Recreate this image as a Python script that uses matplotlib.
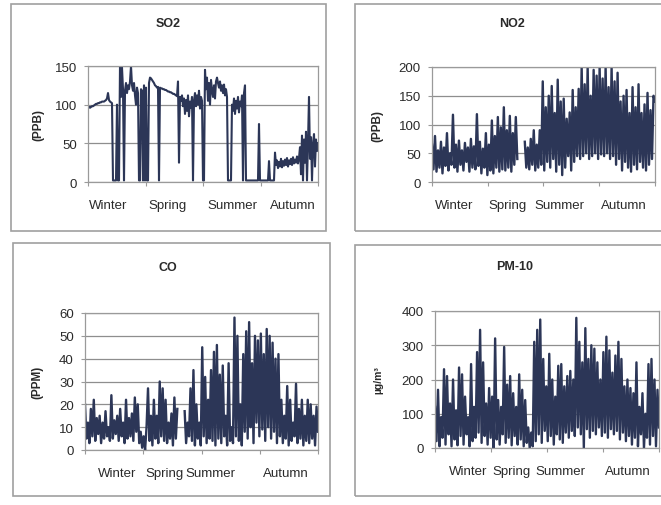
import matplotlib
matplotlib.use('Agg')
import matplotlib.pyplot as plt
from matplotlib.patches import Rectangle

nan = float('nan')

# Season labels on the category axis
seasons = ['Winter', 'Spring', 'Summer', 'Autumn']

# Daily series (peaks and troughs)
so2 = [97, 97, 96, 97, 98, 98, 99, 100, 101, 101, 102, 102, 103, 103, 104, 104, 104, 105, 106, 108,
       115, 106, 104, 103, 102,
       2, 2, 2, 2, 100, 2, 2,
       150, 110, 148, 120, 2,
       118, 128, 115, 125, 120, 130, 150,
       125, 118, 128, 112, 100, 122, 115, 2, 2, 120, 118,
       2, 125, 2, 122, 2, 2, 128,
       135, 134, 132, 130, 128, 125, 124, 122, 123, 2,
       122, 121, 121, 120, 120, 119, 119, 118, 117, 117, 116, 116, 115, 114, 114, 113, 112, 111,
       130, 25,
       110, 105, 112, 98, 108, 88, 106, 92, 112, 85, 104, 96, 110, 2,
       105, 115, 98, 112, 100, 118, 95, 110, 105, 2, 2, 145,
       120, 135, 105, 128, 100, 132, 118, 110, 125, 108, 130, 135,
       128, 122, 130, 118, 125, 115, 126, 112, 120, 110, 2, 2, 2, 2,
       100, 92, 108, 88, 105, 95, 110, 90, 104, 98, 112, 2, 115, 125,
       2, 2, 2, 2, 2, 2, 2, 2, 2, 2, 2, 2, 2, 75, 2, 2, 2, 2, 2, 2, 2, 2, 2, 27, 2, 2, 2, 2, 2,
       38,
       22, 28, 18, 26, 20, 30, 19, 27, 21, 29, 22, 31, 20, 28, 23, 30, 22, 32, 24, 29, 25, 33, 24, 31,
       45, 10, 60, 2, 55, 25, 65, 2, 50, 110, 30, 58, 2, 48, 62, 20, 55, 40, 50]

no2 = [65, 22, 80, 18, 55, 25, 70, 15, 60, 28, 85, 20, 50, 30, 117, 25, 65, 18, 72, 30,
       55, 20, 68, 35, 60, 18, 75, 25, 62, 22, 118, 28, 70, 15, 58, 25, 85, 12, 65, 20,
       107, 15, 80, 25, 113, 18, 95, 22, 130, 20, 90, 25, 115, 18, 85, 30, 113, 40,
       nan, nan, nan, nan,
       70, 25, 60, 22, 75, 30, 90, 20, 65, 25, 90, 30, 175,
       20, 130, 35, 150, 25, 167, 40, 120, 18, 178, 30, 140, 12, 145, 25, 110, 45, 121, 20, 160,
       35, 130, 45, 162, 40, 200, 45, 170, 50, 200, 40, 150, 45, 195, 50, 185, 40, 200, 48, 180,
       45, 200, 50, 165, 40, 200, 45, 175, 30, 190, 40, 140, 20, 150, 35, 160, 25, 120, 18, 165,
       30, 130, 22, 170, 35, 120, 25, 135, 20, 155, 30, 125, 40, 150, 140]

co = [20, 5, 12, 3, 18, 6, 22, 4, 14, 7, 15, 3, 12, 5, 17, 6, 10, 4, 24, 5,
      13, 7, 15, 4, 18, 6, 12, 3, 22, 5, 14, 6, 16, 4, 23, 8, 20, 3,
      8, 1, 6, 0, 10,
      27, 4, 15, 2, 22, 5, 15, 3, 30, 6, 27, 4, 22, 3, 12, 5, 16, 2, 23, 5, 18,
      nan, nan, nan, nan,
      17, 3, 12, 6, 27, 4, 35, 2, 20, 5, 12, 2, 45, 6, 32, 3, 22, 5, 35, 4,
      43, 2, 46, 5, 33, 3, 37, 6, 15, 2, 38, 4, 10, 3, 58, 6, 50, 4, 20, 2,
      42, 8, 52, 5, 56, 10, 38, 3, 50, 12, 48, 6, 51, 9, 42, 4, 53, 10, 50, 5,
      47, 8, 40, 3, 42, 6,
      22, 3, 15, 5, 28, 2, 22, 4, 12, 6, 29, 3, 18, 5, 22, 2, 15, 4, 22, 3,
      20, 5, 15, 2, 19, 8]

pm10 = [120, 20, 170, 5, 90, 30, 230, 10, 210, 40, 130, 5, 200, 25, 110, 8, 235, 35, 215, 10,
        150, 40, 90, 5, 245, 20, 120, 30, 280, 45, 345, 15, 250, 35, 130, 10, 175, 30, 150, 0,
        320, 25, 140, 10, 120, 40, 295, 15, 185, 30, 210, 8, 160, 35, 120, 10, 215, 25, 170, 5,
        140, 15, 60, 0, 45, 5, 310, 20, 345, 40, 375, 15, 260, 50, 180, 20, 275, 35, 200, 10,
        150, 40, 240, 25, 245, 15, 180, 45, 210, 30, 225, 50, 200, 35, 380, 60, 310, 40, 250, 0,
        350, 55, 260, 30, 300, 50, 290, 40, 250, 60, 200, 35, 280, 45, 325, 30, 285, 55, 220, 40,
        270, 50, 310, 25, 260, 45, 180, 20, 200, 35, 175, 10, 160, 30, 250, 5, 120, 40, 160, 0,
        100, 30, 245, 10, 260, 35, 200, 5, 170, 60]

W, H = 661, 506
fig = plt.figure(figsize=(W / 100, H / 100), dpi=100)
plt.rcParams['font.family'] = ['Liberation Sans', 'DejaVu Sans']

line_color = '#2c3657'
grid_color = '#8e8e8e'
text_color = '#2a2a2a'

# Chart-area frames (Excel style), in pixels: x0, y0, x1, y1
frames = [(11, 5, 326, 232), (355, 5, 668, 232), (13, 244, 330, 497), (355, 246, 668, 497)]
for x0, y0, x1, y1 in frames:
    fig.add_artist(Rectangle((x0 / W, 1 - y1 / H), (x1 - x0) / W, (y1 - y0) / H,
                             transform=fig.transFigure, fill=False,
                             edgecolor='#a0a0a0', linewidth=1.2))


def panel(values, box, ymax, ystep, ylabel, ylabel_x, title, title_xy, label_pos,
          ylabel_size=8.5, lw=1.7):
    x0, y0, x1, y1 = box
    ax = fig.add_axes([x0 / W, 1 - y1 / H, (x1 - x0) / W, (y1 - y0) / H])
    n = len(values)
    ax.plot(range(n), values, color=line_color, linewidth=lw)
    ax.set_xlim(0, n - 1)
    ax.set_ylim(0, ymax)
    ax.set_yticks(range(0, ymax + 1, ystep))
    ax.grid(axis='y', color=grid_color, linewidth=0.9)
    ax.set_axisbelow(True)
    for s in ax.spines.values():
        s.set_color('#9a9a9a')
        s.set_linewidth(0.9)
    # tick marks at season boundaries, labels placed separately
    ax.set_xticks([(n - 1) * f for f in (0, 0.25, 0.5, 0.75, 1)])
    ax.set_xticklabels([])
    ax.set_xticks([(n - 1) * f for f in label_pos], minor=True)
    ax.set_xticklabels(seasons, minor=True)
    ax.tick_params(axis='x', which='major', length=3, color='#9a9a9a')
    ax.tick_params(axis='x', which='minor', length=0, pad=12, labelsize=9.5, labelcolor=text_color)
    ax.tick_params(axis='y', length=3, color='#9a9a9a', pad=5, labelsize=9.5, labelcolor=text_color)
    ax.set_ylabel(ylabel, fontsize=ylabel_size, fontweight='bold', color=text_color)
    ax.yaxis.set_label_coords(ylabel_x, 0.5)
    fig.text(title_xy[0] / W, 1 - title_xy[1] / H, title, ha='center', va='center',
             fontsize=9, fontweight='bold', color=text_color)
    return ax


panel(so2, (88, 67, 318, 183), 150, 50, '(PPB)', -0.19, 'SO2', (168, 24),
      [0.087, 0.348, 0.63, 0.89], lw=1.5)
panel(no2, (432, 68, 655, 183), 200, 50, '(PPB)', -0.22, 'NO2', (512, 24),
      [0.10, 0.34, 0.57, 0.86])
panel(co, (85, 314, 318, 451), 60, 10, '(PPM)', -0.18, 'CO', (168, 268),
      [0.14, 0.34, 0.54, 0.86])
panel(pm10, (435, 312, 659, 449), 400, 100, 'µg/m³', -0.23, 'PM-10', (515, 267),
      [0.15, 0.34, 0.56, 0.86], ylabel_size=7.5)

fig.savefig('out.png', dpi=100)
